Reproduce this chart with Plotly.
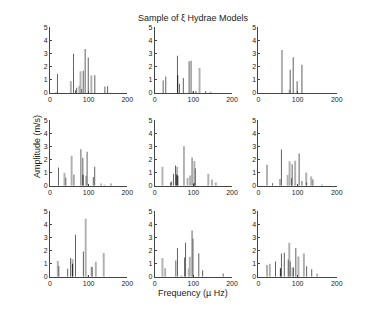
import plotly.graph_objects as go

# ---------------- data (frequency in µHz, amplitude in m/s) ----------------
X_TICKS = [0, 100, 200]
Y_TICKS = [0, 1, 2, 3, 4, 5]
TITLE = "Sample of ξ Hydrae Models"
XLABEL = "Frequency (µ Hz)"
YLABEL = "Amplitude (m/s)"

# panel 1 (row 1, col 1)
P1_DARK_F = [19.4, 60.8, 66, 69, 82, 86, 91, 99, 116, 142, 149]
P1_DARK_A = [1.45, 3.0, 0.2, 0.4, 0.3, 1.7, 3.35, 2.7, 1.35, 0.5, 0.52]
P1_LIGHT_F = [16, 54, 76, 79, 107]
P1_LIGHT_A = [0.05, 0.9, 0.55, 1.65, 1.33]
P1_BLACK_F = []
P1_BLACK_A = []

# panel 2 (row 1, col 2)
P2_DARK_F = [21.8, 28.6, 58.8, 63.9, 74, 89, 94, 99, 106.7, 132]
P2_DARK_A = [0.95, 1.25, 2.85, 0.7, 1.15, 2.42, 2.45, 0.1, 0.15, 0.15]
P2_LIGHT_F = [116, 144.5]
P2_LIGHT_A = [1.9, 0.1]
P2_BLACK_F = [59.5]
P2_BLACK_A = [1.35]

# panel 3 (row 1, col 3)
P3_DARK_F = [81, 88.7, 98.7, 111]
P3_DARK_A = [1.78, 2.72, 0.9, 2.15]
P3_LIGHT_F = [60, 79.5]
P3_LIGHT_A = [3.28, 0.25]
P3_BLACK_F = []
P3_BLACK_A = []

# panel 4 (row 2, col 1)
P4_DARK_F = [22, 40.9, 62, 80, 85, 96, 112, 115.7]
P4_DARK_A = [1.4, 0.62, 0.87, 2.8, 2.15, 2.6, 0.68, 1.45]
P4_LIGHT_F = [37.4, 56, 93.6, 132, 141, 158]
P4_LIGHT_A = [1.0, 2.3, 0.78, 0.18, 0.08, 0.18]
P4_BLACK_F = [85.5]
P4_BLACK_A = [0.85]

# panel 5 (row 2, col 2)
P5_DARK_F = [41, 43.7, 48.7, 53.8, 96.6, 105]
P5_DARK_A = [0.25, 0.33, 0.93, 1.55, 2.17, 1.35]
P5_LIGHT_F = [20, 58, 75.6, 85, 91.6, 102.5, 138.6, 148, 158]
P5_LIGHT_A = [1.45, 1.45, 3.02, 0.6, 0.8, 1.9, 0.93, 0.48, 0.25]
P5_BLACK_F = [57, 59.7, 102]
P5_BLACK_A = [0.87, 0.78, 0.22]

# panel 6 (row 2, col 3)
P6_DARK_F = [36, 58.6, 84.5, 86, 103.8, 111, 123, 139]
P6_DARK_A = [0.2, 2.78, 0.58, 1.65, 2.47, 0.38, 0.28, 0.48]
P6_LIGHT_F = [21.8, 55, 74.5, 79.5, 93.7, 122, 134.7, 162]
P6_LIGHT_A = [1.62, 0.52, 0.82, 1.88, 1.92, 1.02, 0.72, 0.1]
P6_BLACK_F = []
P6_BLACK_A = []

# panel 7 (row 3, col 1)
P7_DARK_F = [22.9, 45.8, 53.4, 66, 86.4, 109]
P7_DARK_A = [0.82, 0.62, 1.44, 3.2, 1.92, 0.75]
P7_LIGHT_F = [20.3, 58.5, 92.4, 98, 107.6, 118.6, 139]
P7_LIGHT_A = [1.2, 1.34, 4.43, 0.08, 0.77, 1.15, 1.82]
P7_BLACK_F = [58.5]
P7_BLACK_A = [1.0]

# panel 8 (row 3, col 2)
P8_DARK_F = [54.6, 58.8, 77.3, 79.8, 96.6, 99, 114, 124, 177]
P8_DARK_A = [1.24, 2.19, 1.47, 2.59, 3.53, 2.93, 1.79, 0.5, 0.25]
P8_LIGHT_F = [20, 27, 69, 88, 90.8]
P8_LIGHT_A = [1.44, 0.65, 0.1, 0.65, 1.52]
P8_BLACK_F = []
P8_BLACK_A = []

# panel 9 (row 3, col 3)
P9_DARK_F = [43.5, 58.6, 66, 76, 81, 89.5, 95.4, 123, 136]
P9_DARK_A = [1.17, 1.77, 1.84, 1.32, 1.17, 0.7, 2.19, 0.8, 0.57]
P9_LIGHT_F = [21.8, 29, 78.7, 87, 102, 116, 150]
P9_LIGHT_A = [0.9, 1.0, 2.59, 0.7, 1.54, 1.77, 0.25]
P9_BLACK_F = [56]
P9_BLACK_A = [0.65]

PANELS = [
    (P1_LIGHT_F, P1_LIGHT_A, P1_DARK_F, P1_DARK_A, P1_BLACK_F, P1_BLACK_A),
    (P2_LIGHT_F, P2_LIGHT_A, P2_DARK_F, P2_DARK_A, P2_BLACK_F, P2_BLACK_A),
    (P3_LIGHT_F, P3_LIGHT_A, P3_DARK_F, P3_DARK_A, P3_BLACK_F, P3_BLACK_A),
    (P4_LIGHT_F, P4_LIGHT_A, P4_DARK_F, P4_DARK_A, P4_BLACK_F, P4_BLACK_A),
    (P5_LIGHT_F, P5_LIGHT_A, P5_DARK_F, P5_DARK_A, P5_BLACK_F, P5_BLACK_A),
    (P6_LIGHT_F, P6_LIGHT_A, P6_DARK_F, P6_DARK_A, P6_BLACK_F, P6_BLACK_A),
    (P7_LIGHT_F, P7_LIGHT_A, P7_DARK_F, P7_DARK_A, P7_BLACK_F, P7_BLACK_A),
    (P8_LIGHT_F, P8_LIGHT_A, P8_DARK_F, P8_DARK_A, P8_BLACK_F, P8_BLACK_A),
    (P9_LIGHT_F, P9_LIGHT_A, P9_DARK_F, P9_DARK_A, P9_BLACK_F, P9_BLACK_A),
]

# ---------------- layout / style ----------------
W, H = 379, 314
COL_PX = [(49, 128), (156, 235), (262, 342)]
ROW_PX = [(24, 91), (119, 186), (212, 279)]
FONT = "Liberation Sans, Arial, Helvetica, sans-serif"
# alpha just below 1 makes plotly round bar edges to whole pixels (thin 1px stems)
LIGHT = "rgba(176,176,176,0.999)"
DARK = "rgba(92,92,92,0.999)"
BLACK = "rgba(26,26,26,0.999)"
AXIS = "#444444"

fig = go.Figure()
layout = dict(
    width=W, height=H, margin=dict(l=0, r=0, t=0, b=0),
    paper_bgcolor="white", plot_bgcolor="white",
    showlegend=False, barmode="overlay",
    font=dict(family=FONT, size=7, color="#222222"),
)

for i, (lf, la, df, da, bf, ba) in enumerate(PANELS):
    r, c = divmod(i, 3)
    xa = "x" if i == 0 else f"x{i+1}"
    ya = "y" if i == 0 else f"y{i+1}"
    for f, a, col, wdt in [(lf, la, LIGHT, 5.0), (df, da, DARK, 2.5), (bf, ba, BLACK, 2.5)]:
        if f:
            fig.add_trace(go.Bar(x=f, y=a, width=[wdt] * len(f),
                                 marker=dict(color=col, line=dict(width=0)),
                                 xaxis=xa, yaxis=ya, hoverinfo="x+y"))
    x0, x1 = COL_PX[c]
    y0, y1 = ROW_PX[r]
    xkey = "xaxis" if i == 0 else f"xaxis{i+1}"
    ykey = "yaxis" if i == 0 else f"yaxis{i+1}"
    layout[xkey] = dict(
        domain=[x0 / W, x1 / W], range=[0, 200], anchor=ya,
        tickvals=X_TICKS, ticktext=[str(v) for v in X_TICKS],
        ticks="inside", ticklen=2, tickcolor=AXIS,
        showline=True, linecolor=AXIS, linewidth=1,
        showgrid=False, zeroline=False, fixedrange=True,
        tickfont=dict(size=7, family=FONT, color="#222222"),
    )
    layout[ykey] = dict(
        domain=[1 - y1 / H, 1 - y0 / H], range=[0, 5], anchor=xa,
        tickvals=Y_TICKS, ticktext=[str(v) for v in Y_TICKS],
        ticks="inside", ticklen=2, tickcolor=AXIS,
        showline=True, linecolor=AXIS, linewidth=1,
        showgrid=False, zeroline=False, fixedrange=True,
        tickfont=dict(size=7, family=FONT, color="#222222"),
    )

layout["annotations"] = [
    dict(text=TITLE, x=196 / W, y=1 - 14 / H, xref="paper", yref="paper",
         showarrow=False, font=dict(size=9, family=FONT, color="#222222"),
         xanchor="center", yanchor="middle"),
    dict(text=YLABEL, x=35 / W, y=1 - 146 / H, xref="paper", yref="paper",
         showarrow=False, textangle=-90, font=dict(size=9, family=FONT, color="#222222"),
         xanchor="center", yanchor="middle"),
    dict(text=XLABEL, x=195 / W, y=1 - 296 / H, xref="paper", yref="paper",
         showarrow=False, font=dict(size=9, family=FONT, color="#222222"),
         xanchor="center", yanchor="middle"),
]

fig.update_layout(**layout)
fig.write_html("out.html", config={"displayModeBar": False},
               post_script="document.body.style.margin='0';document.body.style.padding='0';")
